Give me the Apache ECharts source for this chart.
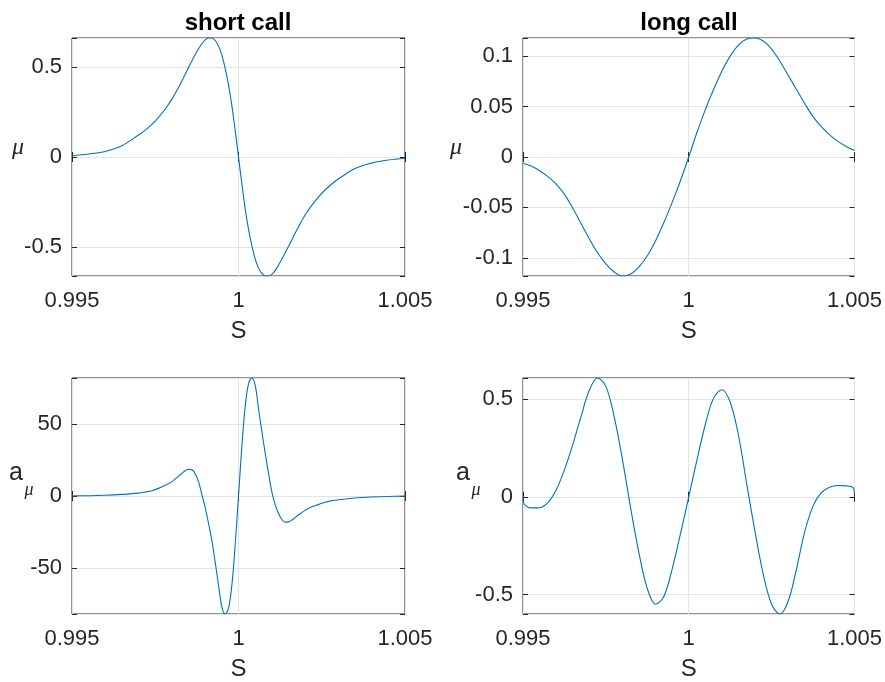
<!DOCTYPE html>
<html>
<head>
<meta charset="utf-8">
<script src="https://cdn.jsdelivr.net/npm/echarts@6/dist/echarts.min.js"></script>
<style>
  html, body { margin: 0; padding: 0; background: #fff; }
  #chart { width: 885px; height: 682px; }
</style>
</head>
<body>
<div id="chart"></div>
<script>
// S grid for the short call panels (denser around S = 1)
const sShort = [0.995, 0.9955, 0.996, 0.9965, 0.997, 0.9972, 0.9974, 0.9976, 0.9978, 0.998,
  0.9982, 0.9983, 0.9984, 0.9985, 0.9986, 0.9987, 0.9988, 0.9989, 0.999, 0.9991, 0.9992, 0.9993,
  0.9994, 0.9995, 0.9996, 0.9997, 0.9998, 0.9999, 1,
  1.0001, 1.0002, 1.0003, 1.0004, 1.0005, 1.0006, 1.0007, 1.0008, 1.0009, 1.001, 1.0011, 1.0012,
  1.0013, 1.0014, 1.0015, 1.0016, 1.0017, 1.0018,
  1.002, 1.0022, 1.0024, 1.0026, 1.0028, 1.003, 1.0035, 1.004, 1.0045, 1.005];

const muShort = [0.007, 0.017, 0.031, 0.063, 0.122, 0.149, 0.181, 0.22, 0.266, 0.321,
  0.386, 0.422, 0.459, 0.496, 0.533, 0.568, 0.6, 0.628, 0.65, 0.66, 0.66, 0.646,
  0.615, 0.565, 0.492, 0.4, 0.285, 0.148, 0,
  -0.148, -0.285, -0.4, -0.49, -0.565, -0.615, -0.645, -0.66, -0.66, -0.651, -0.63, -0.6,
  -0.567, -0.532, -0.497, -0.46, -0.423, -0.388,
  -0.322, -0.268, -0.222, -0.183, -0.15, -0.122, -0.064, -0.034, -0.017, -0.007];

const amuShort = [0.1, 0.2, 0.5, 1.1, 2.0, 2.8, 3.7, 5.3, 7.4, 10,
  13.8, 15.8, 17.6, 18.6, 18.2, 15.5, 10, 1, -8, -19, -31, -46,
  -62, -77, -82, -78, -62, -34, 0,
  34, 62, 78, 82, 77, 61, 45, 30, 16, 3, -6, -12,
  -16.3, -18.2, -18, -16.8, -15, -13.2,
  -10, -7.5, -6, -4.3, -3.3, -2.6, -1.4, -0.7, -0.3, -0.1];

// S grid for the long call panels
const sLong = [0.995, 0.99505, 0.99525, 0.9955, 0.99575, 0.996, 0.99625, 0.9965, 0.99675, 0.997,
  0.99725, 0.9975, 0.99775, 0.998, 0.99825, 0.9985, 0.99875, 0.999, 0.99925, 0.9995, 0.99975, 1,
  1.00025, 1.0005, 1.00075, 1.001, 1.00125, 1.0015, 1.00175, 1.002, 1.00225, 1.0025, 1.00275,
  1.003, 1.00325, 1.0035, 1.00375, 1.004, 1.00425, 1.0045, 1.00475, 1.00495, 1.005];

const muLong = [-0.0062, -0.0066, -0.009, -0.0136, -0.0195, -0.027, -0.037, -0.0505, -0.066, -0.081,
  -0.095, -0.106, -0.114, -0.118, -0.116, -0.109, -0.098, -0.083, -0.065, -0.045, -0.0235, 0,
  0.0245, 0.047, 0.067, 0.085, 0.1, 0.111, 0.117, 0.118, 0.115, 0.107, 0.095,
  0.081, 0.067, 0.053, 0.04, 0.03, 0.022, 0.0155, 0.0105, 0.0071, 0.0066];

const amuLong = [-0.012, -0.042, -0.057, -0.056, -0.03, 0.035, 0.138, 0.266, 0.41, 0.545,
  0.608, 0.565, 0.41, 0.19, -0.06, -0.29, -0.47, -0.55, -0.51, -0.37, -0.19, 0,
  0.19, 0.37, 0.505, 0.548, 0.485, 0.315, 0.065, -0.178, -0.398, -0.55, -0.6,
  -0.535, -0.37, -0.178, -0.048, 0.021, 0.049, 0.058, 0.056, 0.048, 0.012];

const xTicks = { min: 0.995, max: 1.005, step: 0.005 };
const titles = ['short call', 'long call'];

const FONT = '"Liberation Sans", Arial, Helvetica, sans-serif';
const SERIF = '"Liberation Serif", "DejaVu Serif", serif';
const INK = '#262626';
const LINE = '#0072BD';

const panels = [
  { grid: { left: 72, top: 38, width: 333, height: 238 }, s: sShort, v: muShort, yMin: -0.66, yMax: 0.66, step: 0.5, split: 3 },
  { grid: { left: 523, top: 38, width: 332, height: 238 }, s: sLong, v: muLong, yMin: -0.118, yMax: 0.118, step: 0.05, split: 5 },
  { grid: { left: 72, top: 378, width: 333, height: 238 }, s: sShort, v: amuShort, yMin: -82, yMax: 82, step: 50, split: 3 },
  { grid: { left: 523, top: 378, width: 332, height: 238 }, s: sLong, v: amuLong, yMin: -0.6, yMax: 0.608, step: 0.5, split: 3 },
];

// only label ticks that sit on the nice step (hides the tight min/max)
const onStep = (step) => (v) => {
  const r = v / step;
  return Math.abs(r - Math.round(r)) < 1e-6 ? String(+v.toFixed(4)) : '';
};

const tick = { inside: true, length: 5, lineStyle: { color: INK, width: 1 } };
const grid = [];
const xAxis = [];
const yAxis = [];
const series = [];

panels.forEach((p, i) => {
  grid.push({ ...p.grid, show: true, borderColor: INK, borderWidth: 1, containLabel: false });
  xAxis.push({
    gridIndex: i, type: 'value', min: xTicks.min, max: xTicks.max, interval: xTicks.step,
    axisLine: { show: false }, axisTick: tick,
    axisLabel: { fontSize: 22, color: INK, fontFamily: FONT, margin: 14, formatter: (v) => String(+v.toFixed(3)) },
    splitLine: { show: true, lineStyle: { color: '#e3e3e3', width: 1 } },
    name: 'S', nameLocation: 'middle', nameGap: 43,
    nameTextStyle: { fontSize: 24, color: INK, fontFamily: FONT },
  });
  xAxis.push({
    gridIndex: i, type: 'value', position: 'top', min: xTicks.min, max: xTicks.max, interval: xTicks.step,
    axisLine: { show: false }, axisTick: tick, axisLabel: { show: false }, splitLine: { show: false },
  });
  yAxis.push({
    gridIndex: i, type: 'value', min: p.yMin, max: p.yMax, splitNumber: p.split,
    axisLine: { show: false }, axisTick: tick,
    axisLabel: { fontSize: 22, color: INK, fontFamily: FONT, margin: 10, formatter: onStep(p.step) },
    splitLine: { show: true, lineStyle: { color: '#e3e3e3', width: 1 } },
  });
  yAxis.push({
    gridIndex: i, type: 'value', position: 'right', min: p.yMin, max: p.yMax, splitNumber: p.split,
    axisLine: { show: false }, axisTick: tick, axisLabel: { show: false }, splitLine: { show: false },
  });
  series.push({
    type: 'line', xAxisIndex: i * 2, yAxisIndex: i * 2,
    data: p.s.map((s, k) => [s, p.v[k]]),
    showSymbol: false, smooth: 0.35, clip: true,
    lineStyle: { color: LINE, width: 1.1 },
    animation: false,
  });
});

const label = (text, x, y, font, fill) => ({
  type: 'text', x, y,
  style: { text, font, fill: fill || INK, align: 'center', verticalAlign: 'middle' },
});

const graphic = [
  label(titles[0], 238, 23, 'bold 24px ' + FONT, '#000'),
  label(titles[1], 689, 23, 'bold 24px ' + FONT, '#000'),
  label('\u03bc', 18, 148, 'italic 24px ' + SERIF),
  label('\u03bc', 456, 148, 'italic 24px ' + SERIF),
  label('a', 16, 473, '25px ' + FONT),
  label('\u03bc', 29, 490, 'italic 18px ' + SERIF),
  label('a', 463, 473, '25px ' + FONT),
  label('\u03bc', 476, 490, 'italic 18px ' + SERIF),
];

const chart = echarts.init(document.getElementById('chart'), null, { renderer: 'canvas' });
chart.setOption({
  backgroundColor: '#fff',
  animation: false,
  grid, xAxis, yAxis, series, graphic,
});
</script>
</body>
</html>
